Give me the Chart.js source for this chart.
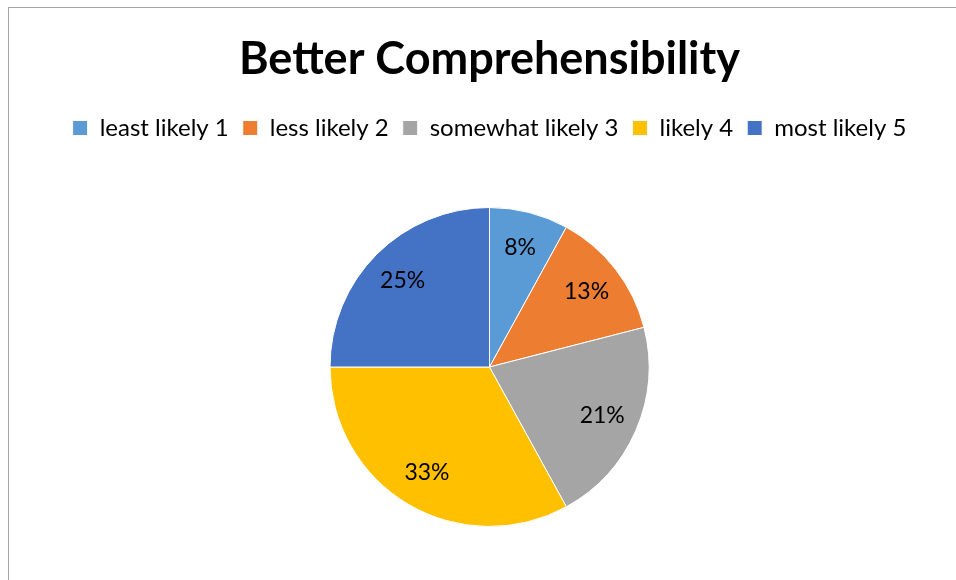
<!DOCTYPE html>
<html>
<head>
<meta charset="utf-8">
<script src="https://cdn.jsdelivr.net/npm/chart.js@4"></script>
<style>
  html, body { margin: 0; padding: 0; background: #fff; overflow: hidden; }
  #box {
    position: absolute; left: 8px; top: 7px;
    width: 962px; height: 600px;
    border-left: 1px solid #a6a6a6; border-top: 1px solid #a6a6a6;
  }
  #wrap { position: absolute; left: 0; top: 0; width: 961px; height: 572px; }
</style>
</head>
<body>
<div id="box"><div id="wrap"><canvas id="myChart"></canvas></div></div>
<script>
// chart data
var categories = ["least likely 1", "less likely 2", "somewhat likely 3", "likely 4", "most likely 5"];
var shares = [8, 13, 21, 33, 25];
var shareLabels = ["8%", "13%", "21%", "33%", "25%"];
var sliceColors = ["#5B9BD5", "#ED7D31", "#A5A5A5", "#FFC000", "#4472C4"];

// draws the percent text inside each slice
var sliceText = {
  id: "sliceText",
  afterDatasetsDraw: function (chart) {
    var ctx = chart.ctx;
    var arcs = chart.getDatasetMeta(0).data;
    ctx.save();
    ctx.font = "23px Lato";
    ctx.fillStyle = "#000";
    ctx.textAlign = "center";
    ctx.textBaseline = "middle";
    arcs.forEach(function (arc, i) {
      var p = arc.getProps(["x", "y", "startAngle", "endAngle", "outerRadius"], true);
      var mid = (p.startAngle + p.endAngle) / 2;
      var r = p.outerRadius * 0.77;
      ctx.fillText(shareLabels[i], p.x + Math.cos(mid) * r, p.y + Math.sin(mid) * r);
    });
    ctx.restore();
  }
};

// extra room under the legend so the pie sits lower
var legendGap = {
  id: "legendGap",
  beforeInit: function (chart) {
    var fit = chart.legend.fit;
    chart.legend.fit = function () {
      fit.bind(chart.legend)();
      this.height += 57;
    };
  }
};

new Chart("myChart", {
  type: "pie",
  data: {
    labels: categories,
    datasets: [{
      data: shares,
      backgroundColor: sliceColors,
      borderColor: "#fff",
      borderWidth: 1
    }]
  },
  plugins: [sliceText, legendGap],
  options: {
    responsive: true,
    maintainAspectRatio: false,
    animation: false,
    layout: { padding: { bottom: 53 } },
    plugins: {
      title: {
        display: true,
        text: "Better Comprehensibility",
        color: "#000",
        font: { family: "Lato", size: 45, weight: "bold" },
        padding: { top: 24, bottom: 16 }
      },
      legend: {
        position: "top",
        labels: {
          color: "#000",
          font: { family: "Lato", size: 24 },
          boxWidth: 15,
          boxHeight: 15,
          padding: 14
        }
      },
      tooltip: { enabled: false }
    }
  }
});
</script>
</body>
</html>
